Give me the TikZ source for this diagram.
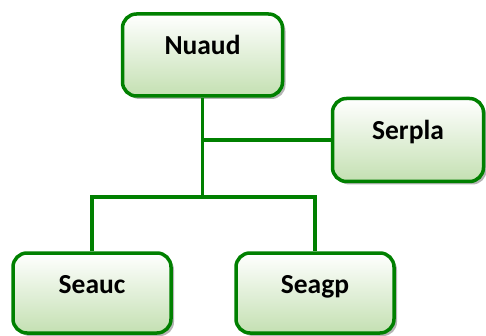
\documentclass[tikz,border=0pt]{standalone}
\usepackage{fontspec}
\setmainfont{Carlito}
\usetikzlibrary{shadows}
\definecolor{boxline}{RGB}{0,128,0}
\definecolor{boxbot}{RGB}{196,224,178}
\definecolor{shade}{RGB}{150,150,150}
\begin{document}
\begin{tikzpicture}[x=1pt,y=-1pt,
  orgbox/.style={draw=boxline, line width=3.5pt, rounded corners=14pt,
    top color=white, bottom color=boxbot, font=\fontsize{27.5}{32}\selectfont\bfseries,
    inner sep=0pt, text height=18pt, text depth=18pt,
    drop shadow={shadow xshift=3pt, shadow yshift=-3pt, fill=shade, opacity=0.7}},
  link/.style={draw=boxline, line width=3.5pt}]
\useasboundingbox (0,0) rectangle (486,336);
\node[orgbox, minimum width=160pt, minimum height=82pt] (nuaud) at (202.5,55) {Nuaud};
\node[orgbox, minimum width=151pt, minimum height=83pt] (serpla) at (408,140) {Serpla};
\node[orgbox, minimum width=158pt, minimum height=80pt] (seauc) at (92,293) {Seauc};
\node[orgbox, minimum width=158pt, minimum height=80pt] (seagp) at (315,293) {Seagp};
\coordinate (hub) at (nuaud.south |- 0,197);
\coordinate (mid) at (nuaud.south |- serpla.west);
\draw[link] (nuaud.south) -- (hub);
\draw[link] (mid) -- (serpla.west);
\draw[link] (seauc.north) |- (hub) -| (seagp.north);
\end{tikzpicture}
\end{document}
